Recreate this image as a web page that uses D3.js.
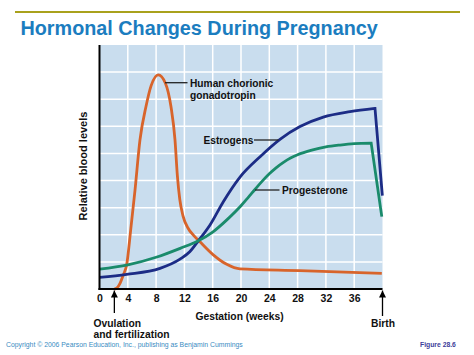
<!DOCTYPE html>
<html>
<head>
<meta charset="utf-8">
<script src="https://cdn.jsdelivr.net/npm/d3@7"></script>
<style>
  html, body { margin: 0; padding: 0; background: #ffffff; }
  svg { display: block; font-family: "Liberation Sans", Arial, sans-serif; }
</style>
</head>
<body>
<svg id="chart" width="474" height="355"></svg>
<script>
// ---- Data (weeks of gestation, relative blood level) ----
const xTicks = [0, 4, 8, 12, 16, 20, 24, 28, 32, 36];

const hcgWeeks  = [2.12, 2.43, 2.9, 3.36, 3.84, 4.41, 5.02, 5.72, 6.57, 7.3, 8.31, 9.3, 10.1, 10.67, 11.0, 11.35, 11.8, 12.5, 13.3, 14.2, 16.04, 17.98, 19.86, 28.3, 39.9];
const hcgValues = [0.0, 0.03, 0.21, 0.52, 0.89, 2.18, 3.65, 5.5, 6.73, 7.5, 7.9, 7.6, 6.73, 5.5, 4.2, 3.3, 2.7, 2.25, 1.98, 1.74, 1.27, 0.91, 0.74, 0.68, 0.58];

const estWeeks  = [0, 3.84, 8.55, 11.38, 12.79, 13.92, 15.62, 17.5, 19.86, 22.7, 25.51, 28.34, 31.63, 35.41, 38.94, 39.98];
const estValues = [0.43, 0.54, 0.76, 1.10, 1.38, 1.76, 2.36, 3.22, 4.13, 4.88, 5.52, 5.99, 6.34, 6.54, 6.66, 3.44];

const proWeeks  = [0, 4, 8, 11.4, 13.9, 16, 18, 20, 21, 22, 23, 24, 25, 26, 27, 28, 30, 32, 34, 36, 38.4, 39.9];
const proValues = [0.73, 0.89, 1.17, 1.50, 1.77, 2.10, 2.55, 3.07, 3.37, 3.68, 3.98, 4.25, 4.48, 4.67, 4.83, 4.95, 5.12, 5.24, 5.31, 5.36, 5.38, 2.67];

const series = [
  { name: "hCG",  weeks: hcgWeeks, values: hcgValues, color: "#d8642b", sharpEnd: false },
  { name: "Estrogens", weeks: estWeeks, values: estValues, color: "#1c2c86", sharpEnd: true },
  { name: "Progesterone", weeks: proWeeks, values: proValues, color: "#1a8b6b", sharpEnd: true }
];

// ---- Layout ----
const svg = d3.select("#chart");
const x = d3.scaleLinear().domain([0, 40]).range([99.5, 382.5]);
const y = d3.scaleLinear().domain([0, 9]).range([289, 45]);

// top rule
svg.append("line").attr("x1", 15).attr("x2", 460).attr("y1", 12).attr("y2", 12)
  .attr("stroke", "#a9a11c").attr("stroke-width", 2);

// title
svg.append("text").attr("x", 20.5).attr("y", 35)
  .attr("font-size", 19.8).attr("font-weight", "bold").attr("fill", "#1b7dbf")
  .text("Hormonal Changes During Pregnancy");

// plot background
svg.append("rect").attr("x", x(0)).attr("y", y(9))
  .attr("width", x(40) - x(0)).attr("height", y(0) - y(9))
  .attr("fill", "#c9ddee");

// grid
const grid = svg.append("g").attr("stroke", "#ffffff").attr("stroke-width", 1.5);
d3.range(4, 40, 4).forEach(w => {
  grid.append("line").attr("x1", x(w)).attr("x2", x(w)).attr("y1", y(9)).attr("y2", y(0));
});
d3.range(1, 9).forEach(v => {
  grid.append("line").attr("x1", x(0)).attr("x2", x(40)).attr("y1", y(v)).attr("y2", y(v));
});

// curves
const line = d3.line().x(d => x(d[0])).y(d => y(d[1])).curve(d3.curveMonotoneX);
series.forEach(s => {
  const pts = s.weeks.map((w, i) => [w, s.values[i]]);
  const smooth = s.sharpEnd ? pts.slice(0, -1) : pts;
  let dPath = line(smooth);
  if (s.sharpEnd) {
    const last = pts[pts.length - 1];
    dPath += "L" + x(last[0]) + "," + y(last[1]);
  }
  svg.append("path").attr("d", dPath).attr("fill", "none")
    .attr("stroke", s.color).attr("stroke-width", 2.8)
    .attr("stroke-linejoin", "miter").attr("stroke-linecap", "butt");
});

// axes lines
svg.append("line").attr("x1", x(0)).attr("x2", x(0)).attr("y1", y(9)).attr("y2", y(0) + 1)
  .attr("stroke", "#000").attr("stroke-width", 2);
svg.append("line").attr("x1", x(0) - 1).attr("x2", x(40)).attr("y1", y(0)).attr("y2", y(0))
  .attr("stroke", "#000").attr("stroke-width", 2);

// x tick labels via axis
const xAxis = d3.axisBottom(x).tickValues(xTicks).tickSize(0).tickPadding(6).tickFormat(d3.format("d"));
const gx = svg.append("g").attr("transform", `translate(0,${y(0)})`).call(xAxis);
gx.select(".domain").remove();
gx.selectAll("text").attr("font-size", 10.5).attr("font-weight", "bold")
  .attr("font-family", "Liberation Sans, Arial, sans-serif").attr("fill", "#111");

// axis titles
svg.append("text").attr("x", 239.5).attr("y", 320).attr("text-anchor", "middle")
  .attr("font-size", 10.3).attr("font-weight", "bold").attr("fill", "#111")
  .text("Gestation (weeks)");
svg.append("text").attr("transform", "translate(87,166) rotate(-90)")
  .attr("text-anchor", "middle").attr("font-size", 11).attr("font-weight", "bold").attr("fill", "#111")
  .text("Relative blood levels");

// arrows
const defs = svg.append("defs");
defs.append("marker").attr("id", "arrowhead").attr("viewBox", "0 0 10 10")
  .attr("refX", 10).attr("refY", 5).attr("markerWidth", 7).attr("markerHeight", 7)
  .attr("markerUnits", "userSpaceOnUse").attr("orient", "auto")
  .append("path").attr("d", "M0,0L10,5L0,10Z").attr("fill", "#000");
svg.append("line").attr("x1", x(2.1)).attr("x2", x(2.1)).attr("y1", 313).attr("y2", 290.5)
  .attr("stroke", "#000").attr("stroke-width", 1.3).attr("marker-end", "url(#arrowhead)");
svg.append("line").attr("x1", x(40)).attr("x2", x(40)).attr("y1", 316).attr("y2", 290.5)
  .attr("stroke", "#000").attr("stroke-width", 1.3).attr("marker-end", "url(#arrowhead)");

svg.append("text").attr("x", 93.5).attr("y", 326.5).attr("font-size", 10.3)
  .attr("font-weight", "bold").attr("fill", "#111").text("Ovulation");
svg.append("text").attr("x", 93.5).attr("y", 337.5).attr("font-size", 10.3)
  .attr("font-weight", "bold").attr("fill", "#111").text("and fertilization");
svg.append("text").attr("x", 383).attr("y", 326.5).attr("text-anchor", "middle").attr("font-size", 10.3)
  .attr("font-weight", "bold").attr("fill", "#111").text("Birth");

// annotations
const ann = svg.append("g").attr("stroke", "#222").attr("stroke-width", 1.3);
ann.append("line").attr("x1", 165).attr("x2", 187.5).attr("y1", 82.7).attr("y2", 82.7);
ann.append("line").attr("x1", 254).attr("x2", 278.5).attr("y1", 140).attr("y2", 140);
ann.append("line").attr("x1", 255).attr("x2", 279.5).attr("y1", 190).attr("y2", 190);

const labelStyle = sel => sel.attr("font-size", 10.2).attr("font-weight", "bold").attr("fill", "#111");
svg.append("text").attr("x", 190).attr("y", 87).text("Human chorionic").call(labelStyle);
svg.append("text").attr("x", 190).attr("y", 98.5).text("gonadotropin").call(labelStyle);
svg.append("text").attr("x", 203.5).attr("y", 143.5).text("Estrogens").call(labelStyle);
svg.append("text").attr("x", 282).attr("y", 193.5).text("Progesterone").call(labelStyle);

// footer
svg.append("text").attr("x", 6).attr("y", 346.5).attr("font-size", 6.85).attr("fill", "#3a8cc2")
  .text("Copyright © 2006 Pearson Education, Inc., publishing as Benjamin Cummings");
svg.append("text").attr("x", 420).attr("y", 347.3).attr("font-size", 6.8).attr("font-weight", "bold")
  .attr("fill", "#3d3d99").text("Figure 28.6");
</script>
</body>
</html>
